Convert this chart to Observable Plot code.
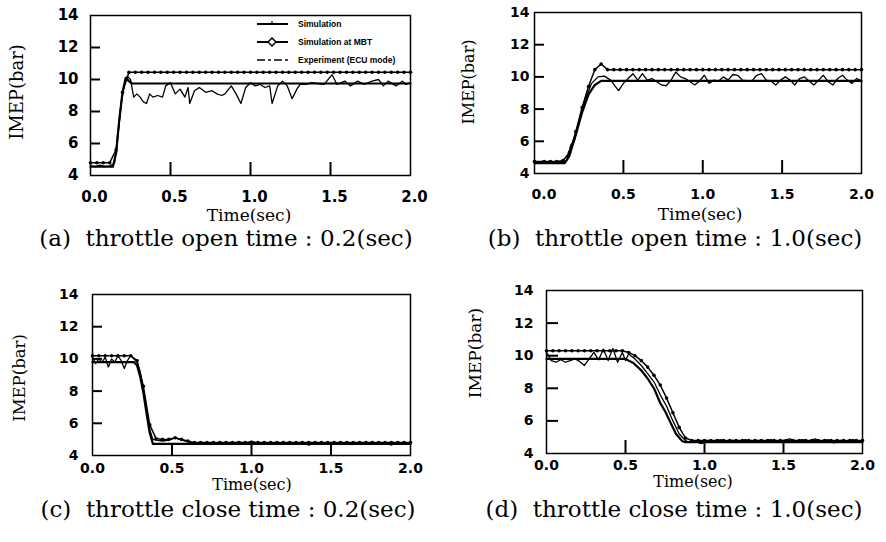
<!DOCTYPE html>
<html><head><meta charset="utf-8">
<script src="https://cdn.jsdelivr.net/npm/d3@7"></script>
<script src="https://cdn.jsdelivr.net/npm/@observablehq/plot@0.6"></script>
<style>
body{margin:0;background:#fff;}
#fig{position:relative;width:886px;height:542px;background:#fff;overflow:hidden;}
.panel{position:absolute;}
.ytitle{position:absolute;font-family:"DejaVu Serif";white-space:nowrap;line-height:1;transform:translate(-50%,-50%) rotate(-90deg);color:#000;}
.xtitle{position:absolute;font-family:"DejaVu Serif";white-space:nowrap;line-height:1;transform:translate(-50%,-50%);color:#000;}
.caption{position:absolute;font-family:"DejaVu Serif";white-space:pre;line-height:1;transform:translate(-50%,-50%);color:#000;}
</style></head><body><div id="fig"></div>
<script>
// ---- tick values ----
const xLabels = [0, 0.5, 1.0, 1.5, 2.0];
const yLabels = [4, 6, 8, 10, 12, 14];
const xTicks = [0.5, 1.0, 1.5];
const yTicks = [6, 8, 10, 12];
const yTitle = "IMEP(bar)";
const xTitle = "Time(sec)";
const captions = [
  "(a)  throttle open time : 0.2(sec)",
  "(b)  throttle open time : 1.0(sec)",
  "(c)  throttle close time : 0.2(sec)",
  "(d)  throttle close time : 1.0(sec)"
];
const legendLabels = ["Simulation", "Simulation at MBT", "Experiment (ECU mode)"];

// ---- MBT series time grid ----
const gridT = [0,0.04,0.08,0.12,0.16,0.20,0.24,0.28,0.32,0.36,0.40,0.44,0.48,0.52,0.56,0.60,0.64,0.68,0.72,0.76,0.80,0.84,0.88,0.92,0.96,1.00,1.04,1.08,1.12,1.16,1.20,1.24,1.28,1.32,1.36,1.40,1.44,1.48,1.52,1.56,1.60,1.64,1.68,1.72,1.76,1.80,1.84,1.88,1.92,1.96,2.00];
const gridTB = [-0.06, ...gridT];

// ---- (a) throttle open 0.2 s ----
const simA = [[0,4.55],[0.14,4.55],[0.16,5.4],[0.18,7.5],[0.2,9.2],[0.22,10.1],[0.24,9.9],[0.26,9.75],[2,9.75]];
const mbtA = [4.8,4.8,4.8,4.8,5.6,9.2,10.45,10.45,10.45,10.45,
  10.45,10.45,10.45,10.45,10.45,10.45,10.45,10.45,10.45,10.45,
  10.45,10.45,10.45,10.45,10.45,10.45,10.45,10.45,10.45,10.45,
  10.45,10.45,10.45,10.45,10.45,10.45,10.45,10.45,10.45,10.45,
  10.45,10.45,10.45,10.45,10.45,10.45,10.45,10.45,10.45,10.45,10.45];
const expA = [[0,4.6],[0.03,4.55],[0.06,4.65],[0.09,4.55],[0.12,4.6],[0.15,4.75],[0.17,6.3],[0.19,8.4],[0.21,9.6],[0.23,10.2],[0.25,10.0],[0.27,8.9],[0.29,9.1],[0.31,8.9],[0.33,8.6],[0.35,8.5],[0.37,9.1],[0.39,8.9],[0.42,9.0],[0.45,8.9],[0.47,9.6],[0.50,9.8],[0.53,9.1],[0.56,9.4],[0.59,8.9],[0.61,9.5],[0.62,8.5],[0.65,9.3],[0.68,9.5],[0.72,9.2],[0.76,9.3],[0.79,9.1],[0.82,9.0],[0.84,9.1],[0.88,9.6],[0.91,9.1],[0.94,8.5],[0.97,9.5],[1.00,9.8],[1.03,9.6],[1.06,9.7],[1.09,9.5],[1.12,9.6],[1.135,8.5],[1.17,9.6],[1.20,9.9],[1.23,9.6],[1.26,8.8],[1.29,9.4],[1.31,9.7],[1.35,9.7],[1.38,9.8],[1.42,9.75],[1.46,9.7],[1.51,10.3],[1.54,9.7],[1.59,9.9],[1.625,9.6],[1.67,9.9],[1.71,9.7],[1.76,9.9],[1.80,10.0],[1.83,9.6],[1.86,9.9],[1.91,9.6],[1.95,9.9],[1.97,9.7],[2.0,9.8]];

// ---- (b) throttle open 1.0 s ----
const simB = [[-0.06,4.65],[0.13,4.65],[0.16,5.1],[0.2,6.4],[0.24,7.8],[0.28,8.9],[0.32,9.5],[0.36,9.75],[2,9.75]];
const mbtB = [4.75,4.75,4.75,4.75,4.8,5.3,6.6,8.1,9.4,10.45,
  10.8,10.45,10.45,10.45,10.45,10.45,10.45,10.45,10.45,10.45,
  10.45,10.45,10.45,10.45,10.45,10.45,10.45,10.45,10.45,10.45,
  10.45,10.45,10.45,10.45,10.45,10.45,10.45,10.45,10.45,10.45,
  10.45,10.45,10.45,10.45,10.45,10.45,10.45,10.45,10.45,10.45,10.45,10.45];
const expB = [[-0.06,4.7],[0.0,4.75],[0.05,4.7],[0.1,4.75],[0.14,4.75],[0.17,5.8],[0.19,6.0],[0.22,7.2],[0.26,8.6],[0.3,9.6],[0.34,10.0],[0.38,10.05],[0.42,9.8],[0.45,9.4],[0.47,9.15],[0.5,9.6],[0.53,9.9],[0.56,10.2],[0.59,9.8],[0.62,10.2],[0.65,9.8],[0.68,9.9],[0.71,9.7],[0.74,9.5],[0.77,9.45],[0.8,9.8],[0.83,10.3],[0.86,10.0],[0.89,9.9],[0.92,9.7],[0.95,9.5],[0.98,9.75],[1.01,10.1],[1.04,9.6],[1.07,9.8],[1.10,9.75],[1.13,10.0],[1.16,9.8],[1.19,10.15],[1.22,10.1],[1.25,9.8],[1.28,9.75],[1.31,9.75],[1.34,10.1],[1.37,10.2],[1.40,9.8],[1.43,9.75],[1.46,9.5],[1.49,9.8],[1.52,10.0],[1.55,9.8],[1.58,9.5],[1.61,9.9],[1.64,10.0],[1.67,9.75],[1.7,9.5],[1.73,9.8],[1.76,10.1],[1.79,9.7],[1.82,9.5],[1.85,9.9],[1.88,10.1],[1.91,9.8],[1.94,9.6],[1.97,9.9],[2.0,9.75]];

// ---- (c) throttle close 0.2 s ----
const simC = [[0,9.8],[0.26,9.8],[0.28,9.6],[0.3,8.9],[0.32,7.9],[0.34,6.6],[0.36,5.4],[0.38,4.72],[2,4.72]];
const mbtC = [10.2,10.2,10.2,10.2,10.2,10.2,10.2,9.9,8.3,5.9,
  5.05,5.0,5.0,5.1,5.0,4.9,4.8,4.8,4.8,4.8,
  4.8,4.8,4.8,4.8,4.8,4.8,4.8,4.8,4.8,4.8,
  4.8,4.8,4.8,4.8,4.8,4.8,4.8,4.8,4.8,4.8,
  4.8,4.8,4.8,4.8,4.8,4.8,4.8,4.8,4.8,4.8,4.8];
const expC = [[0,10.1],[0.02,9.7],[0.04,10.0],[0.06,9.8],[0.08,10.1],[0.10,9.5],[0.12,10.0],[0.14,9.8],[0.16,10.2],[0.18,9.9],[0.2,9.4],[0.22,9.9],[0.24,10.2],[0.26,10.0],[0.28,9.8],[0.3,9.2],[0.32,8.1],[0.34,6.8],[0.36,5.6],[0.38,5.0],[0.4,4.95],[0.44,4.9],[0.48,4.95],[0.52,5.1],[0.56,4.95],[0.6,4.85],[0.64,4.75],[0.68,4.8],[0.72,4.75],[0.76,4.8],[0.8,4.75],[0.84,4.8],[0.88,4.75],[0.92,4.85],[0.96,4.75],[1.0,4.9],[1.04,4.75],[1.08,4.8],[1.12,4.75],[1.16,4.8],[1.2,4.75],[1.24,4.8],[1.28,4.7],[1.32,4.8],[1.36,4.65],[1.4,4.75],[1.44,4.8],[1.48,4.7],[1.52,4.8],[1.56,4.7],[1.6,4.8],[1.64,4.75],[1.68,4.8],[1.72,4.75],[1.76,4.8],[1.8,4.75],[1.84,4.8],[1.88,4.65],[1.92,4.85],[1.96,4.7],[2.0,4.75]];

// ---- (d) throttle close 1.0 s ----
const simD = [[0,9.8],[0.5,9.8],[0.55,9.55],[0.6,9.1],[0.64,8.6],[0.68,8.0],[0.72,7.1],[0.75,6.6],[0.78,6.0],[0.82,5.2],[0.86,4.75],[0.88,4.7],[2,4.7]];
const mbtD = [10.3,10.3,10.3,10.3,10.3,10.3,10.3,10.3,10.3,10.3,
  10.3,10.3,10.3,10.2,10.0,9.7,9.3,8.8,8.2,7.4,
  6.5,5.6,4.95,4.8,4.8,4.8,4.8,4.8,4.8,4.8,
  4.8,4.8,4.8,4.8,4.8,4.8,4.8,4.8,4.8,4.8,
  4.8,4.8,4.8,4.8,4.8,4.8,4.8,4.8,4.8,4.8,4.8];
const expD = [[0,10.2],[0.03,9.7],[0.06,9.6],[0.09,9.75],[0.12,9.6],[0.15,9.7],[0.18,9.8],[0.21,9.65],[0.24,9.4],[0.27,9.8],[0.30,10.2],[0.33,9.75],[0.36,10.4],[0.39,9.7],[0.42,10.45],[0.45,9.6],[0.48,10.2],[0.5,9.7],[0.52,10.1],[0.56,9.8],[0.6,9.4],[0.64,8.9],[0.68,8.4],[0.72,7.6],[0.76,6.9],[0.8,6.0],[0.84,5.2],[0.88,4.8],[0.9,4.7],[0.94,4.75],[0.98,4.6],[1.02,4.8],[1.06,4.7],[1.1,4.85],[1.14,4.7],[1.18,4.8],[1.22,4.75],[1.26,4.85],[1.3,4.7],[1.34,4.8],[1.38,4.75],[1.42,4.85],[1.46,4.7],[1.5,4.8],[1.54,4.9],[1.58,4.75],[1.62,4.85],[1.66,4.75],[1.7,4.9],[1.74,4.7],[1.78,4.85],[1.82,4.65],[1.86,4.8],[1.9,4.75],[1.94,4.85],[1.98,4.7],[2.0,4.8]];

const fig = document.getElementById("fig");

function panel(p) {
  const width = 443, height = 225;
  const plotW = width - p.ml - p.mr, plotH = height - p.mt - p.mb;
  const xd = p.xDomain || [0, 2];
  const yd = [4, 14];
  // inward tick lengths, converted from pixels to scale units
  const xTickLenU = p.xtl * (yd[1] - yd[0]) / plotH;
  const yTickLenU = p.ytl * (xd[1] - xd[0]) / plotW;
  const mbt = p.mbtT.map((t, i) => ({t, v: p.mbtV[i]}));
  const chart = Plot.plot({
    width, height,
    marginTop: p.mt, marginBottom: p.mb, marginLeft: p.ml, marginRight: p.mr,
    x: {domain: xd},
    y: {domain: yd},
    style: {fontFamily: "DejaVu Sans", fontSize: p.fs + "px", fontWeight: "bold", color: "black", background: "white"},
    marks: [
      Plot.line(p.exp, {x: d => d[0], y: d => d[1], stroke: "black", strokeWidth: 1.3}),
      Plot.line(mbt, {x: "t", y: "v", stroke: "black", strokeWidth: 1.5}),
      Plot.dot(mbt, {x: "t", y: "v", r: 1.8, fill: "black"}),
      Plot.line(p.sim, {x: d => d[0], y: d => d[1], stroke: "black", strokeWidth: 2.2}),
      Plot.ruleX(xTicks, {x: d => d, y1: yd[0], y2: yd[0] + xTickLenU, stroke: "black", strokeWidth: 2}),
      Plot.ruleY(yTicks, {y: d => d, x1: xd[0], x2: xd[0] + yTickLenU, stroke: "black", strokeWidth: 2}),
      Plot.axisX(xLabels, {tickSize: 0, tickPadding: p.xPad, tickFormat: d3.format(".1f"), label: null, dx: p.xdx || 0}),
      Plot.axisY(yLabels, {tickSize: 0, tickPadding: p.yPad, label: null}),
      Plot.frame({stroke: "black", strokeWidth: 1.5})
    ]
  });
  const div = document.createElement("div");
  div.className = "panel";
  div.style.left = p.left + "px";
  div.style.top = p.top + "px";
  div.appendChild(chart);
  fig.appendChild(div);

  const yt = document.createElement("div");
  yt.className = "ytitle";
  yt.textContent = yTitle;
  yt.style.left = p.yTitle[0] + "px"; yt.style.top = p.yTitle[1] + "px"; yt.style.fontSize = p.yts + "px";
  fig.appendChild(yt);

  const xt = document.createElement("div");
  xt.className = "xtitle";
  xt.textContent = xTitle;
  xt.style.left = p.xTitle[0] + "px"; xt.style.top = p.xTitle[1] + "px"; xt.style.fontSize = p.xts + "px";
  fig.appendChild(xt);

  const cap = document.createElement("div");
  cap.className = "caption";
  cap.textContent = p.caption;
  cap.style.left = p.cap[0] + "px"; cap.style.top = p.cap[1] + "px"; cap.style.fontSize = "23px";
  fig.appendChild(cap);
}

panel({left: 0, top: 0, mt: 15, mb: 50, ml: 90, mr: 33, sim: simA, mbtT: gridT, mbtV: mbtA, exp: expA,
  fs: 15, xPad: 16, yPad: 12, xtl: 13, ytl: 10, xdx: 4, yTitle: [17, 92], yts: 18, xTitle: [249, 215], xts: 17, caption: captions[0], cap: [226, 238]});
panel({left: 443, top: 0, mt: 12, mb: 52, ml: 91, mr: 25, xDomain: [-0.06, 2], sim: simB, mbtT: gridTB, mbtV: mbtB, exp: expB,
  fs: 14, xPad: 16, yPad: 5, xtl: 13, ytl: 10, yTitle: [469, 82], yts: 16, xTitle: [700, 214], xts: 17, caption: captions[1], cap: [675, 238]});
panel({left: 0, top: 271, mt: 23, mb: 41, ml: 92, mr: 33, sim: simC, mbtT: gridT, mbtV: mbtC, exp: expC,
  fs: 14, xPad: 8, yPad: 14, xtl: 10, ytl: 10, yTitle: [20, 378], yts: 16.5, xTitle: [252, 485], xts: 16, caption: captions[2], cap: [228, 509]});
panel({left: 443, top: 271, mt: 19, mb: 43, ml: 103, mr: 24, sim: simD, mbtT: gridT, mbtV: mbtD, exp: expD,
  fs: 14, xPad: 7, yPad: 13, xtl: 13, ytl: 12, yTitle: [475, 353], yts: 17, xTitle: [693, 482], xts: 16, caption: captions[3], cap: [674, 509]});

// ---- legend (panel a) ----
const ns = "http://www.w3.org/2000/svg";
const leg = document.createElementNS(ns, "svg");
leg.setAttribute("width", 443); leg.setAttribute("height", 80);
leg.style.position = "absolute"; leg.style.left = "0px"; leg.style.top = "0px";
const rowsY = [24, 42, 60];
legendLabels.forEach((lab, i) => {
  const y = rowsY[i];
  const ln = document.createElementNS(ns, "line");
  ln.setAttribute("x1", 257); ln.setAttribute("x2", 288); ln.setAttribute("y1", y); ln.setAttribute("y2", y);
  ln.setAttribute("stroke", "black"); ln.setAttribute("stroke-width", i === 2 ? 1.5 : 2);
  if (i === 2) ln.setAttribute("stroke-dasharray", "8,3,3,3");
  leg.appendChild(ln);
  if (i === 0) {
    const tk = document.createElementNS(ns, "line");
    tk.setAttribute("x1", 272); tk.setAttribute("x2", 272); tk.setAttribute("y1", y - 3); tk.setAttribute("y2", y + 1);
    tk.setAttribute("stroke", "black"); tk.setAttribute("stroke-width", 1.2);
    leg.appendChild(tk);
  }
  if (i === 1) {
    const dm = document.createElementNS(ns, "path");
    dm.setAttribute("d", `M272,${y-4}L276,${y}L272,${y+4}L268,${y}Z`);
    dm.setAttribute("fill", "white"); dm.setAttribute("stroke", "black"); dm.setAttribute("stroke-width", 1.5);
    leg.appendChild(dm);
  }
  const tx = document.createElementNS(ns, "text");
  tx.setAttribute("x", 298); tx.setAttribute("y", y + 3);
  tx.setAttribute("font-family", "Liberation Sans"); tx.setAttribute("font-size", 8.5); tx.setAttribute("font-weight", "bold");
  tx.textContent = lab;
  leg.appendChild(tx);
});
fig.appendChild(leg);
</script></body></html>
